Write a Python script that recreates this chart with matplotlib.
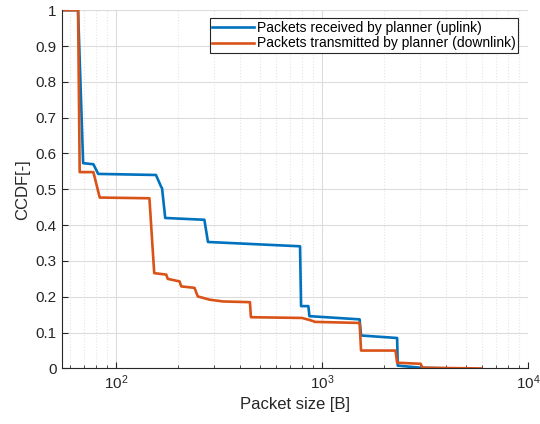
import matplotlib
matplotlib.use("Agg")
import matplotlib.pyplot as plt
from matplotlib.ticker import FixedLocator, LogLocator, FixedFormatter

# CCDF of packet sizes
uplink_size = [54, 65.3, 69.1, 77.5, 81.8, 156, 165, 167, 173, 268, 279,
               781, 790, 857, 867, 1520, 1545, 2312, 2328, 3006, 4300]
uplink_ccdf = [1.0, 1.0, 0.573, 0.570, 0.543, 0.540, 0.508, 0.503, 0.420, 0.415, 0.353,
               0.341, 0.174, 0.174, 0.146, 0.137, 0.092, 0.085, 0.008, 0.002, 0.0]

downlink_size = [54, 65.3, 66.5, 77.5, 83.2, 145, 153, 175, 178, 203, 207, 240, 249,
                 284, 330, 446, 451, 797, 873, 924, 1520, 1545, 2270, 2312, 3006,
                 3069, 5900]
downlink_ccdf = [1.0, 1.0, 0.548, 0.548, 0.477, 0.475, 0.266, 0.262, 0.250, 0.243, 0.229,
                 0.225, 0.201, 0.192, 0.187, 0.185, 0.143, 0.141, 0.135, 0.130, 0.127,
                 0.050, 0.050, 0.016, 0.013, 0.002, 0.0]

y_ticks = [0, 0.1, 0.2, 0.3, 0.4, 0.5, 0.6, 0.7, 0.8, 0.9, 1]
y_tick_labels = ["0", "0.1", "0.2", "0.3", "0.4", "0.5", "0.6", "0.7", "0.8", "0.9", "1"]

plt.rcParams["font.family"] = ["Liberation Sans", "DejaVu Sans"]
plt.rcParams["mathtext.fontset"] = "custom"
plt.rcParams["mathtext.rm"] = "Liberation Sans"
plt.rcParams["mathtext.default"] = "regular"

fig = plt.figure(figsize=(5.4, 4.24), dpi=100)
ax = fig.add_axes([0.114, 0.131, 0.864, 0.845])

ax.plot(uplink_size, uplink_ccdf, color="#0072BD", linewidth=1.9,
        label="Packets received by planner (uplink)")
ax.plot(downlink_size, downlink_ccdf, color="#D95319", linewidth=1.9,
        label="Packets transmitted by planner (downlink)")

ax.set_xscale("log")
ax.set_xlim(54.3, 1e4)
ax.set_ylim(0, 1)

ax.yaxis.set_major_locator(FixedLocator(y_ticks))
ax.yaxis.set_major_formatter(FixedFormatter(y_tick_labels))
ax.xaxis.set_major_locator(LogLocator(base=10, numticks=5))
ax.xaxis.set_minor_locator(LogLocator(base=10, subs=range(2, 10), numticks=20))

ax.grid(True, which="major", color="#dcdcdc", linewidth=0.8)
ax.grid(True, which="minor", axis="x", color="#e6e6e6", linestyle=":", linewidth=0.8)
ax.set_axisbelow(True)

for side in ["top", "right"]:
    ax.spines[side].set_visible(False)
for side in ["left", "bottom"]:
    ax.spines[side].set_color("#262626")
    ax.spines[side].set_linewidth(0.8)

ax.tick_params(which="both", direction="in", colors="#262626", labelsize=11,
               top=False, right=False)
ax.tick_params(which="major", length=4)
ax.tick_params(which="minor", length=2.5)

ax.set_xlabel("Packet size [B]", fontsize=12, color="#262626")
ax.set_ylabel("CCDF[-]", fontsize=12, color="#262626")

leg = ax.legend(loc="upper right", bbox_to_anchor=(0.985, 0.985), fontsize=10,
                handlelength=3.0, handletextpad=0.2, borderpad=0.2,
                labelspacing=0.1, borderaxespad=0.2, fancybox=False, framealpha=1)
leg.get_frame().set_edgecolor("#262626")
leg.get_frame().set_linewidth(0.8)

fig.savefig("out.png", dpi=100)
